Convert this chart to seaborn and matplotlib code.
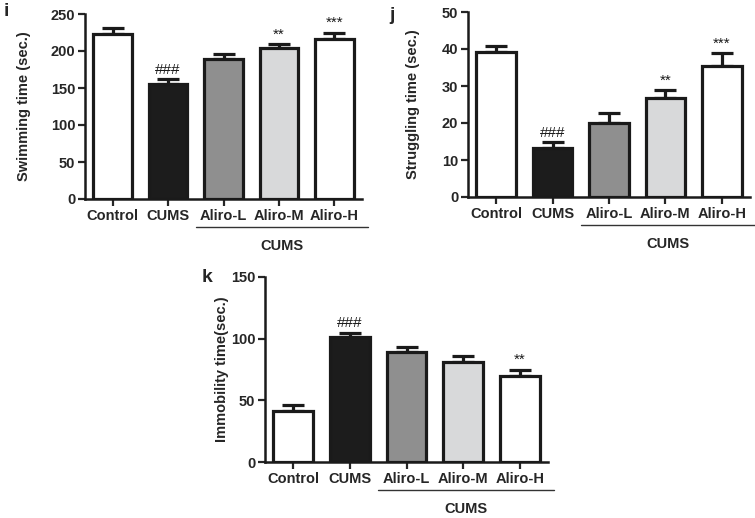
import numpy as np
import pandas as pd
import matplotlib
matplotlib.use("Agg")
import matplotlib.pyplot as plt
import seaborn as sns

groups = ["Control", "CUMS", "Aliro-L", "Aliro-M", "Aliro-H"]
bar_colors = ["#ffffff", "#1c1c1c", "#8f8f8f", "#d8d9da", "#ffffff"]

swim_mean = [223, 155, 189, 204, 216]
swim_err = [8, 7, 7, 5, 9]
swim_marks = ["", "###", "", "**", "***"]

strug_mean = [39.3, 13.2, 19.9, 26.8, 35.4]
strug_err = [1.4, 1.7, 2.9, 2.0, 3.4]
strug_marks = ["", "###", "", "**", "***"]

immo_mean = [41, 101, 89, 81, 70]
immo_err = [5, 4, 4, 5, 5]
immo_marks = ["", "###", "", "", "**"]

sns.set_style("ticks")
plt.rcParams["font.family"] = ["Liberation Sans", "DejaVu Sans"]
plt.rcParams["font.weight"] = "bold"

W, H = 755, 518
fig = plt.figure(figsize=(W / 100, H / 100), dpi=100)


def px_axes(left, right, top, bottom):
    return fig.add_axes([left / W, 1 - bottom / H, (right - left) / W, (bottom - top) / H])


def panel(ax, means, errs, marks, ymax, ystep, ylabel, letter, letter_xy, label_xy):
    df = pd.DataFrame({"group": groups, "value": means})
    sns.barplot(data=df, x="group", y="value", hue="group", palette=bar_colors,
                legend=False, width=0.7, edgecolor="#1a1a1a", linewidth=2.3,
                errorbar=None, ax=ax, zorder=3)
    xs = np.arange(len(groups))
    ax.errorbar(xs, means, yerr=[np.zeros(len(means)), errs], fmt="none",
                ecolor="#1a1a1a", elinewidth=2.3, capsize=8, capthick=2.3, zorder=2)
    for x, m, e, s in zip(xs, means, errs, marks):
        if s:
            ax.text(x, m + e + ymax * 0.012, s, ha="center", va="bottom",
                    fontsize=11, fontweight="normal", color="#1a1a1a")
    ax.set_xlim(-0.5, 4.5)
    ax.set_ylim(0, ymax)
    ax.set_yticks(np.arange(0, ymax + 1e-9, ystep))
    ax.set_xlabel("")
    ax.set_ylabel("")
    ax.tick_params(axis="both", direction="out", length=5, width=1.6, labelsize=10.5, pad=2)
    for lab in ax.get_xticklabels() + ax.get_yticklabels():
        lab.set_fontweight("bold")
    sns.despine(ax=ax)
    for sp in ["left", "bottom"]:
        ax.spines[sp].set_linewidth(1.8)
        ax.spines[sp].set_color("#1a1a1a")
    trans = ax.get_xaxis_transform()
    ax.plot([1.5, 4.6], [-0.152, -0.152], color="#333333", lw=1.0,
            transform=trans, clip_on=False)
    ax.text(3.05, -0.255, "CUMS", transform=trans, ha="center", va="center",
            fontsize=10.5, fontweight="bold")
    fig.text(letter_xy[0] / W, 1 - letter_xy[1] / H, letter, fontsize=14,
             fontweight="bold", ha="left", va="center")
    fig.text(label_xy[0] / W, 1 - label_xy[1] / H, ylabel, rotation=90,
             fontsize=10.5, fontweight="bold", ha="center", va="center")


ax_i = px_axes(85, 362, 14, 199)
panel(ax_i, swim_mean, swim_err, swim_marks, 250, 50, "Swimming time (sec.)",
      "i", (4, 12), (24, 106))

ax_j = px_axes(468, 750, 12, 197)
panel(ax_j, strug_mean, strug_err, strug_marks, 50, 10, "Struggling time (sec.)",
      "j", (389, 15), (413, 104))

ax_k = px_axes(265, 548, 277, 462)
panel(ax_k, immo_mean, immo_err, immo_marks, 150, 50, "Immobility time(sec.)",
      "k", (202, 277), (222, 369))

fig.savefig("out.png", dpi=100, facecolor="white")
